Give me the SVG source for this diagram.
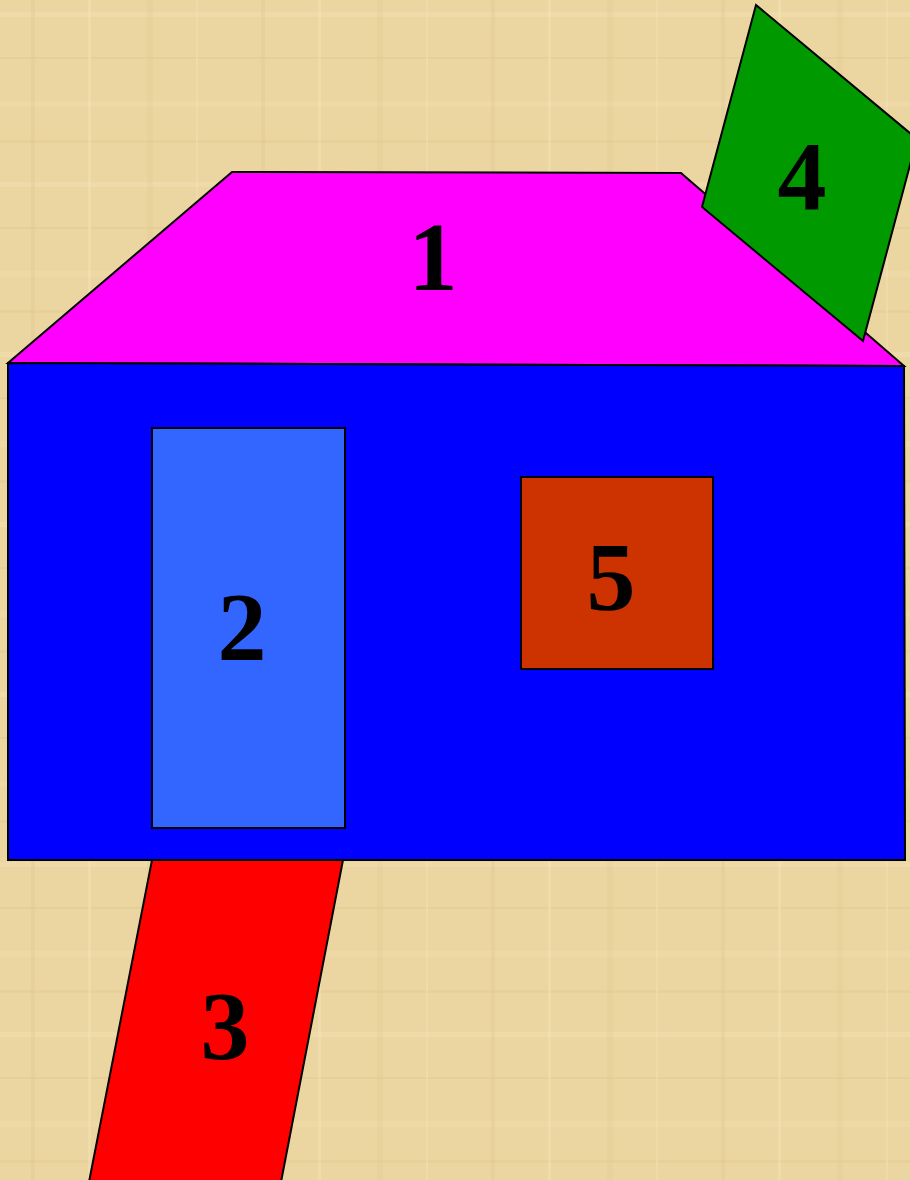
<svg xmlns="http://www.w3.org/2000/svg" width="910" height="1180" viewBox="0 0 910 1180">
<style>
.sh{stroke:#000;stroke-width:2;stroke-linejoin:miter}
.lbl{font-family:"Liberation Serif","Times New Roman",serif;font-weight:bold;font-size:98px;fill:#000;text-anchor:middle}
</style>
<defs>
<pattern id="paper" width="230" height="170" patternUnits="userSpaceOnUse">
<rect width="230" height="170" fill="#EBD5A0"/>
<rect x="0" y="12" width="230" height="5" fill="#F3E2B4" opacity="0.45"/>
<rect x="0" y="57" width="230" height="2" fill="#DDC48C" opacity="0.35"/>
<rect x="0" y="101" width="230" height="6" fill="#F2DFAE" opacity="0.4"/>
<rect x="0" y="140" width="230" height="3" fill="#DEC58D" opacity="0.3"/>
<rect x="31" y="0" width="4" height="170" fill="#DFC68F" opacity="0.3"/>
<rect x="88" y="0" width="3" height="170" fill="#F4E4B8" opacity="0.45"/>
<rect x="147" y="0" width="6" height="170" fill="#E0C891" opacity="0.25"/>
<rect x="196" y="0" width="2" height="170" fill="#F4E4B8" opacity="0.4"/>
</pattern>
</defs>
<rect id="background" width="910" height="1180" fill="url(#paper)"/>
<g id="node3">
<polygon class="sh" points="152,860 343,860 281,1182 89,1182" fill="#FF0000"/>
<text class="lbl" x="225" y="1059">3</text>
</g>
<g id="node1">
<polygon class="sh" points="232,172 681,173 904,366 8,363" fill="#FF00FF"/>
<text class="lbl" x="433" y="290">1</text>
</g>
<g id="node4">
<polygon class="sh" points="756,5 917,139 863,341 702,207" fill="#009900"/>
<text class="lbl" x="802" y="209">4</text>
</g>
<g id="house">
<polygon class="sh" points="8,363 904,366 905,860 8,860" fill="#0000FF"/>
</g>
<g id="node2">
<rect class="sh" x="152" y="428" width="193" height="400" fill="#3366FF"/>
<text class="lbl" x="242" y="660">2</text>
</g>
<g id="node5">
<rect class="sh" x="521" y="477" width="192" height="192" fill="#CC3300"/>
<text class="lbl" x="611" y="610">5</text>
</g>
<g id="connectors"/>
</svg>
